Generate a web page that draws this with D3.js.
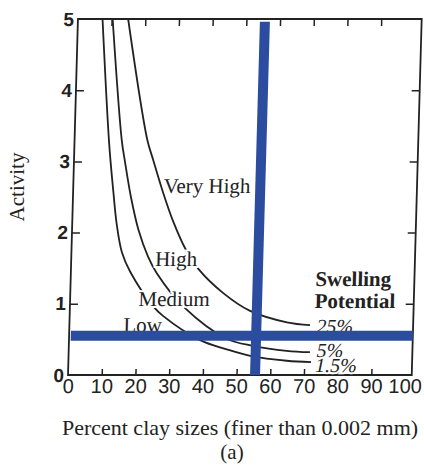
<!DOCTYPE html>
<html>
<head>
<meta charset="utf-8">
<script src="https://cdn.jsdelivr.net/npm/d3@7"></script>
<style>
body { margin: 0; background: #fff; }
</style>
</head>
<body>
<div id="chart"></div>
<script>
// swelling potential curves (x = % clay, y = activity)
var seriesNames = ["25%", "5%", "1.5%"];
var clay25 = [14.9, 21.6, 23.5, 26.8, 30.0, 33.7, 37.8, 45.4, 53.5, 64.5, 71.4];
var act25  = [5.0, 3.30, 3.02, 2.55, 2.15, 1.78, 1.49, 1.15, 0.90, 0.74, 0.70];
var clay5  = [10.3, 14.0, 15.2, 17.2, 19.7, 22.8, 25.5, 33.7, 46.8, 54.7, 64.7, 71.6];
var act5   = [5.0, 3.30, 2.98, 2.50, 2.04, 1.66, 1.43, 0.96, 0.51, 0.41, 0.34, 0.32];
var clay15 = [7.3, 10.3, 12.0, 13.2, 15.0, 17.6, 24.8, 27.7, 38.9, 46.9, 54.7, 64.8, 72.0];
var act15  = [5.0, 3.25, 2.55, 2.12, 1.72, 1.45, 0.96, 0.83, 0.49, 0.36, 0.26, 0.20, 0.18];

var regionNames = ["Very High", "High", "Medium", "Low"];
var xTicks = [0, 10, 20, 30, 40, 50, 60, 70, 80, 90, 100];
var yTicks = [0, 1, 2, 3, 4, 5];

// the blue cross lines
var markClay = 55.5;
var markActivity = 0.55;

var W = 424, H = 466;
var blue = "#2b4c9f";
var ink = "#222";

var x = d3.scaleLinear().domain([0, 100]).range([68, 405]);
var y = d3.scaleLinear().domain([0, 5]).range([375, 19]);

var svg = d3.select("#chart").append("svg")
  .attr("width", W)
  .attr("height", H);

// scanned figure leans a little, so skew the plot around the x axis
var g = svg.append("g")
  .attr("transform", "translate(0," + y(0) + ") skewX(-1.6) translate(0," + (-y(0)) + ")");

var frameRight = x(102);

g.append("rect")
  .attr("x", x(0))
  .attr("y", y(5))
  .attr("width", frameRight - x(0))
  .attr("height", y(0) - y(5))
  .attr("fill", "none")
  .attr("stroke", ink)
  .attr("stroke-width", 1.8);

// bottom axis
var bottomAxis = g.append("g")
  .attr("transform", "translate(0," + y(0) + ")")
  .call(d3.axisBottom(x).tickValues(xTicks).tickSize(-6).tickPadding(4));
bottomAxis.select(".domain").remove();
bottomAxis.selectAll(".tick").filter(function(d){ return d == 0 || d == 100; }).select("line").remove();
bottomAxis.selectAll("line").attr("stroke", ink).attr("stroke-width", 1.5);
bottomAxis.selectAll("text")
  .attr("font-family", "Liberation Sans")
  .attr("font-size", 20)
  .attr("fill", ink);

// top ticks
var topAxis = g.append("g")
  .attr("transform", "translate(0," + y(5) + ")")
  .call(d3.axisTop(x).tickValues(xTicks.slice(1, 10)).tickSize(-7).tickFormat(""));
topAxis.select(".domain").remove();
topAxis.selectAll("line").attr("stroke", ink).attr("stroke-width", 1.5);

// left axis
var leftAxis = g.append("g")
  .attr("transform", "translate(" + x(0) + ",0)")
  .call(d3.axisLeft(y).tickValues(yTicks).tickFormat(d3.format("d")).tickSize(-8).tickPadding(4));
leftAxis.select(".domain").remove();
leftAxis.selectAll(".tick").filter(function(d){ return d == 0 || d == 5; }).select("line").remove();
leftAxis.selectAll("line").attr("stroke", ink).attr("stroke-width", 1.5);
leftAxis.selectAll("text")
  .attr("font-family", "Liberation Sans")
  .attr("font-weight", "bold")
  .attr("font-size", 19)
  .attr("fill", ink);

// right ticks
var rightAxis = g.append("g")
  .attr("transform", "translate(" + frameRight + ",0)")
  .call(d3.axisLeft(y).tickValues([1, 2, 3, 4]).tickSize(8).tickFormat(""));
rightAxis.select(".domain").remove();
rightAxis.selectAll("line").attr("stroke", ink).attr("stroke-width", 1.5);

// curves
function zip(xs, ys) {
  return xs.map(function(v, i){ return [v, ys[i]]; });
}
var curves = [zip(clay25, act25), zip(clay5, act5), zip(clay15, act15)];

var line = d3.line()
  .x(function(d){ return x(d[0]); })
  .y(function(d){ return y(d[1]); })
  .curve(d3.curveCatmullRom.alpha(0.5));

g.selectAll(".curve")
  .data(curves)
  .enter().append("path")
  .attr("class", "curve")
  .attr("d", line)
  .attr("fill", "none")
  .attr("stroke", ink)
  .attr("stroke-width", 1.8);

// text labels, white halo hides the curve behind them
function label(txt, cx, cy, size, opts) {
  opts = opts || {};
  return g.append("text")
    .attr("x", x(cx))
    .attr("y", y(cy))
    .attr("font-family", "Liberation Serif")
    .attr("font-size", size)
    .attr("font-weight", opts.weight || "normal")
    .attr("font-style", opts.style || "normal")
    .attr("fill", ink)
    .attr("stroke", "#fff")
    .attr("stroke-width", 4)
    .attr("paint-order", "stroke")
    .text(txt);
}

label(regionNames[0], 26.8, 2.55, 21);
label(regionNames[1], 24.9, 1.53, 21);
label(regionNames[2], 20.3, 0.97, 21);
label(regionNames[3], 16.0, 0.61, 21);

label("Swelling", 72.6, 1.25, 21, {weight: "bold"});
label("Potential", 72.6, 0.94, 21, {weight: "bold"});

label(seriesNames[0], 73.3, 0.59, 20, {style: "italic"});
label(seriesNames[1], 73.6, 0.25, 20, {style: "italic"});
label(seriesNames[2], 73.3, 0.04, 20, {style: "italic"});

// blue lines drawn over everything
g.append("line")
  .attr("x1", x(markClay)).attr("x2", x(markClay))
  .attr("y1", y(0)).attr("y2", y(4.96))
  .attr("stroke", blue)
  .attr("stroke-width", 10);

g.append("line")
  .attr("x1", x(0.5)).attr("x2", x(102))
  .attr("y1", y(markActivity)).attr("y2", y(markActivity))
  .attr("stroke", blue)
  .attr("stroke-width", 10);

// axis titles
svg.append("text")
  .attr("transform", "translate(24,187) rotate(-90)")
  .attr("text-anchor", "middle")
  .attr("font-family", "Liberation Serif")
  .attr("font-size", 21)
  .attr("fill", ink)
  .text("Activity");

svg.append("text")
  .attr("x", 240)
  .attr("y", 435)
  .attr("text-anchor", "middle")
  .attr("font-family", "Liberation Serif")
  .attr("font-size", 22)
  .attr("fill", ink)
  .text("Percent clay sizes (finer than 0.002 mm)");

svg.append("text")
  .attr("x", 232)
  .attr("y", 459)
  .attr("text-anchor", "middle")
  .attr("font-family", "Liberation Serif")
  .attr("font-size", 21)
  .attr("fill", ink)
  .text("(a)");
</script>
</body>
</html>
